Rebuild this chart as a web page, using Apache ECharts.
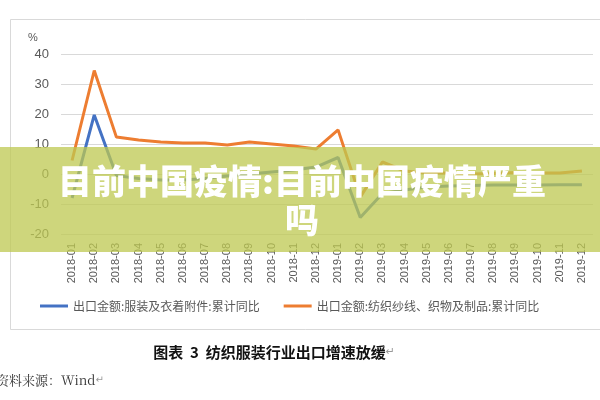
<!DOCTYPE html>
<html>
<head>
<meta charset="utf-8">
<script src="https://cdn.jsdelivr.net/npm/echarts@6/dist/echarts.min.js"></script>
<style>
html,body{margin:0;padding:0;background:#fff;}
#c{width:600px;height:400px;}
</style>
</head>
<body>
<div id="c"></div>
<script>
const categories = ['2018-01','2018-02','2018-03','2018-04','2018-05','2018-06','2018-07','2018-08','2018-09','2018-10','2018-11','2018-12',
  '2019-01','2019-02','2019-03','2019-04','2019-05','2019-06','2019-07','2019-08','2019-09','2019-10','2019-11','2019-12'];
const apparelName = '出口金额:服装及衣着附件:累计同比';
const textileName = '出口金额:纺织纱线、织物及制品:累计同比';
const apparel = [-8, 19.7, -0.5, -1.5, -2, -2, -1.5, -0.7, 0, 0.7, 1.3, 2.3, 5.5, -14.5, -6.5, -5.3, -4.3, -4, -3.8, -3.7, -3.7, -3.7, -3.6, -3.6];
const textile = [4.5, 34.5, 12.3, 11.3, 10.7, 10.3, 10.3, 9.7, 10.7, 10, 9.3, 8.3, 14.7, -7.7, 4, 1, 0.3, 0.3, 0, 0.2, 0.5, 0.3, 0.3, 1];
const yTicks = {min: -20, max: 40, interval: 10};
const unitLabel = '%';
const caption = '图表  3  纺织服装行业出口增速放缓';
const source = '资料来源：Wind';
const paraMark = '↵';
const bannerLine1 = '目前中国疫情:目前中国疫情严重';
const bannerLine2 = '吗';

const chart = echarts.init(document.getElementById('c'));
const gray = '#595959';
chart.setOption({
  animation: false,
  backgroundColor: '#fff',
  grid: {left: 61, right: 7, top: 54, bottom: 166, containLabel: false},
  legend: {
    bottom: 83, left: 35,
    itemWidth: 28, itemHeight: 3, itemGap: 24,
    icon: 'rect',
    textStyle: {color: gray, fontSize: 12, fontFamily: 'Noto Sans CJK SC'},
    data: [apparelName, textileName]
  },
  xAxis: {
    type: 'category', data: categories, boundaryGap: true,
    axisLine: {show: false}, axisTick: {show: false},
    axisLabel: {rotate: 90, color: gray, fontSize: 11, margin: 9, interval: 0, fontFamily: 'Liberation Sans'}
  },
  yAxis: {
    type: 'value', min: yTicks.min, max: yTicks.max, interval: yTicks.interval,
    axisLine: {show: false}, axisTick: {show: false},
    axisLabel: {color: gray, fontSize: 13, margin: 12, fontFamily: 'Liberation Sans'},
    splitLine: {lineStyle: {color: '#d9d9d9', width: 1}}
  },
  series: [
    {name: apparelName, type: 'line', data: apparel, symbol: 'none', lineStyle: {color: '#4472C4', width: 3}, itemStyle: {color: '#4472C4'}, z: 3},
    {name: textileName, type: 'line', data: textile, symbol: 'none', lineStyle: {color: '#ED7D31', width: 3}, itemStyle: {color: '#ED7D31'}, z: 2}
  ],
  graphic: [
    {type: 'rect', shape: {x: 10.5, y: 19.5, width: 600, height: 310}, style: {fill: 'none', stroke: '#d9d9d9', lineWidth: 1}, z: 0, silent: true},
    {type: 'text', x: 28, y: 32, style: {text: unitLabel, fill: gray, fontSize: 11, fontFamily: 'Liberation Sans'}, z: 5},
    {type: 'text', x: 274, y: 352, style: {text: '{a|' + caption + '}{m|' + paraMark + '}', align: 'center', verticalAlign: 'middle',
      rich: {a: {fill: '#111', fontSize: 15, fontWeight: 'bold', fontFamily: 'Noto Sans CJK SC'}, m: {fill: '#999', fontSize: 11, fontFamily: 'DejaVu Sans'}}}, z: 5},
    {type: 'text', x: -4, y: 380, style: {text: '{a|' + source + '}{m|' + paraMark + '}', verticalAlign: 'middle',
      rich: {a: {fill: '#333', fontSize: 13, fontFamily: 'Noto Serif CJK SC, Noto Sans CJK SC'}, m: {fill: '#999', fontSize: 10, fontFamily: 'DejaVu Sans'}}}, z: 5},
    {type: 'rect', shape: {x: 0, y: 147, width: 600, height: 105}, style: {fill: 'rgba(190,200,80,0.75)'}, z: 100, silent: true},
    {type: 'text', x: 302, y: 181, style: {text: bannerLine1, fill: '#fff', fontSize: 34, fontWeight: 900, fontFamily: 'Noto Sans CJK SC', align: 'center', verticalAlign: 'middle'}, z: 101},
    {type: 'text', x: 302, y: 220, style: {text: bannerLine2, fill: '#fff', fontSize: 34, fontWeight: 900, fontFamily: 'Noto Sans CJK SC', align: 'center', verticalAlign: 'middle'}, z: 101}
  ]
});
</script>
</body>
</html>
